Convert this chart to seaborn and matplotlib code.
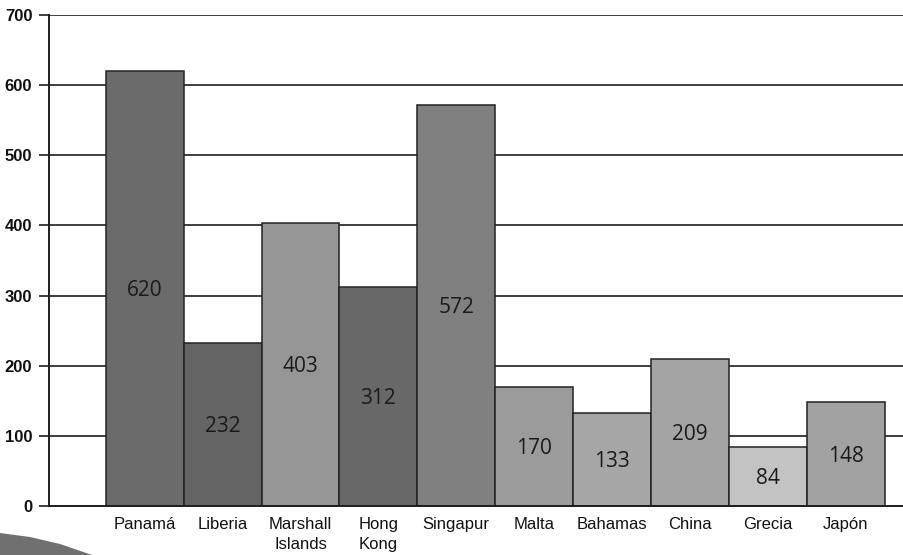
import matplotlib
matplotlib.use("Agg")
import matplotlib.pyplot as plt
from matplotlib.patches import Polygon
from matplotlib.transforms import IdentityTransform
import seaborn as sns
import pandas as pd

# Registered fleet by flag state
flags = ["Panamá", "Liberia", "Marshall\nIslands", "Hong\nKong", "Singapur",
         "Malta", "Bahamas", "China", "Grecia", "Japón"]
vessels = [620, 232, 403, 312, 572, 170, 133, 209, 84, 148]
bar_colors = ["#6b6b6b", "#646464", "#969696", "#686868", "#808080",
              "#9b9b9b", "#a6a6a6", "#a4a4a4", "#c3c3c3", "#a2a2a2"]
y_ticks = [0, 100, 200, 300, 400, 500, 600, 700]

df = pd.DataFrame({"flag": flags, "vessels": vessels})

sns.set_theme(style="white")
plt.rcParams["font.family"] = ["Liberation Sans", "DejaVu Sans"]

fig = plt.figure(figsize=(9.04, 5.55), dpi=100)
ax = fig.add_axes([49 / 904, 1 - 506 / 555, 1 - 49 / 904, (506 - 15) / 555])

ax.set_axisbelow(True)
for t in y_ticks[1:]:
    ax.axhline(t, color="#1e1e1e", lw=1.2, zorder=0)

sns.barplot(data=df, x="flag", y="vessels", hue="flag", palette=bar_colors,
            width=1.0, edgecolor="#222222", linewidth=1.1, legend=False,
            saturation=1, ax=ax, zorder=2)

for i, v in enumerate(vessels):
    ax.text(i, v / 2 - 3, str(v), ha="center", va="center", fontsize=15,
            family="Open Sans", color="#1a1a1a", zorder=3)

ax.set_xlim(-1.23, 9.75)
ax.set_ylim(0, 700)
ax.set_yticks(y_ticks)
ax.set_yticklabels([str(t) for t in y_ticks], fontsize=12, fontweight="bold",
                   color="#111111")
ax.tick_params(axis="y", which="major", left=True, length=7, width=1.2,
               color="#1e1e1e", pad=5)
ax.tick_params(axis="x", length=0, pad=8, labelsize=12, labelcolor="#111111")
for lab in ax.get_xticklabels():
    lab.set_linespacing(1.4)
    lab.set_va("top")

ax.set_xlabel("")
ax.set_ylabel("")
for side in ["top", "right"]:
    ax.spines[side].set_visible(False)
for side in ["left", "bottom"]:
    ax.spines[side].set_color("#1e1e1e")
    ax.spines[side].set_linewidth(1.4)

# decorative grey wedge in the lower-left corner
wedge = Polygon([(0, 555 - 533), (30, 555 - 537), (60, 555 - 544),
                 (92, 555 - 555), (0, 0)],
                closed=True, facecolor="#707070", edgecolor="none")
wedge.set_transform(IdentityTransform())
fig.patches.append(wedge)

fig.savefig("out.png", dpi=100)
